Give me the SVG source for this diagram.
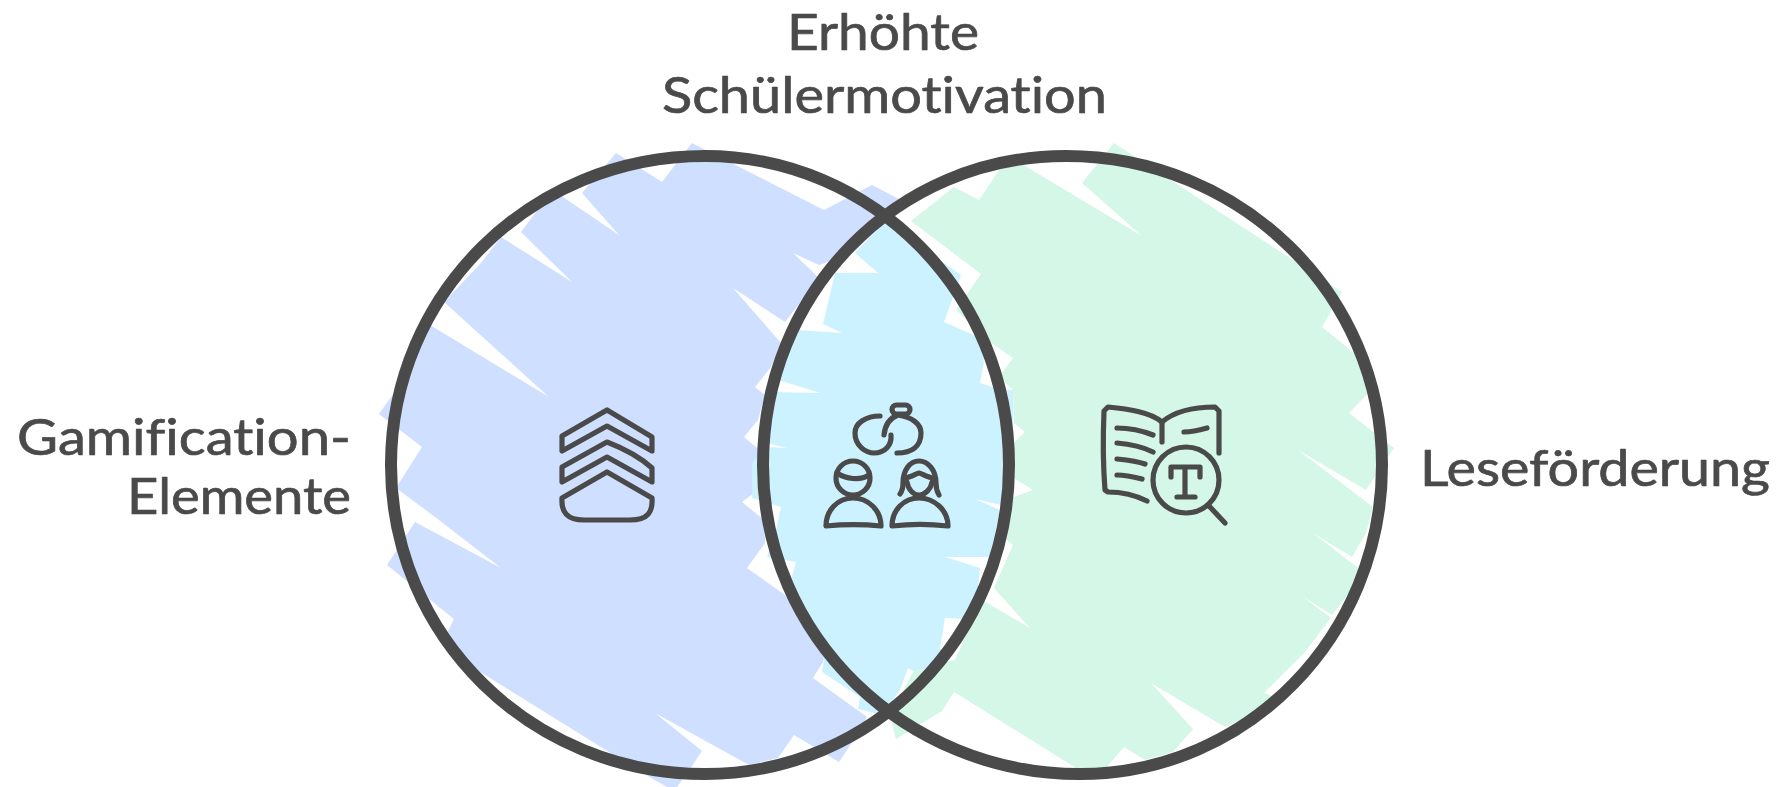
<svg xmlns="http://www.w3.org/2000/svg" width="1785" height="787" viewBox="0 0 1785 787">
<style>
.ring{fill:none;stroke:#4a4a4a;stroke-width:12;stroke-linejoin:round}
.ic{fill:none;stroke:#4a4a4a;stroke-width:5.2;stroke-linecap:round;stroke-linejoin:round}
text{font-family:"Lato","Open Sans",sans-serif;font-size:50px;fill:#4a4a4a;stroke:#4a4a4a;stroke-width:0.7;stroke-linejoin:round;font-variant-ligatures:none}
</style>
<rect width="1785" height="787" fill="#fff"/>
<g id="fills">
<polygon id="fill-blue" fill="#cfdfff" points="692,143 824,210 872,185 899,199 885,222 853,253 819,265 793,253 819,278 785,322 733,288 781,343 771,367 755,387 765,395 758,420 744,437 762,452 762,487 742,502 764,520 765,543 747,568 785,595 806,617 831,632 823,662 813,678 867,717 855,738 839,762 794,735 778,758 749,765 655,713 702,751 690,769 677,787 667,787 646,775 474,668 447,633 454,619 387,565 415,522 501,568 439,520 396,488 422,447 379,414 396,390 430,325 549,397 444,302 481,263 501,237 572,282 521,232 539,208 560,195 619,235 582,193 616,153 662,182"/>
<polygon id="fill-green" fill="#d4f7e7" points="1114,143 1342,292 1322,327 1359,357 1371,390 1349,413 1394,448 1366,490 1298,450 1373,507 1366,533 1352,557 1313,533 1358,568 1349,593 1332,615 1302,596 1331,618 1304,653 1264,693 1283,700 1225,727 1151,683 1193,729 1173,752 1145,760 1124,747 1106,768 1076,768 954,692 942,711 896,739 890,717 915,668 955,660 982,600 1030,628 994,588 1013,545 1001,535 1006,500 1033,490 1012,477 1012,445 1025,432 1014,423 1013,390 999,377 1013,358 990,342 956,310 981,274 911,221 954,187 979,200 999,170 1020,163 1142,236 1082,183"/>
<polygon id="fill-overlap" fill="#ccf2ff" points="885,222 961,275 951,303 944,322 978,337 984,362 980,383 999,389 1013,390 1013,430 1009,497 1001,505 975,499 1000,510 990,557 945,557 980,568 978,588 966,619 945,618 940,649 954,652 932,667 913,671 908,668 900,690 885,712 874,713 858,709 860,697 822,672 824,660 803,610 790,583 796,562 767,557 776,530 781,507 752,498 752,463 767,447 787,448 767,443 774,392 821,393 778,380 797,330 842,333 823,324 835,273 878,273 855,253"/>
</g>
<g id="set-left"><path class="ring" d="M391,465C391,294 531,156 705,156C873,156 1009,294 1009,465C1009,636 873,774 705,774C531,774 391,636 391,465Z"/></g>
<g id="set-right"><path class="ring" d="M763,465C763,294 895,156 1066,156C1240,156 1382,294 1382,465C1382,636 1247,774 1080,774C905,774 763,636 763,465Z"/></g>
<g id="icon-gamification">
<path class="ic" d="M607,410L652,437V451L607,426L562,451V436Z"/>
<path class="ic" d="M607,442C625,449 640,457 652,468V482L607,457L562,482V467Z"/>
<path class="ic" d="M607,472L652,498C653,512 648,520 630,520H584C567,520 561,512 562,498Z"/>
</g>
<g id="icon-motivation">
<path class="ic" d="M880,416C866,416 855,423 855,433C855,446 866,453 874,453C885,453 892,445 891,435"/>
<path class="ic" d="M884,435C885,425 890,418 898,415C912,417 921,424 921,433C921,446 912,453 897,453"/>
<rect class="ic" x="892" y="405" width="18" height="9" rx="4.5"/>
<circle class="ic" cx="853" cy="478" r="17"/>
<path class="ic" d="M837,473C846,479 860,481 869,475"/>
<path class="ic" d="M826,526C826,510 838,498 853,498C868,498 881,510 881,526C862,524 845,524 826,526Z"/>
<path class="ic" d="M900,494C903,490 903,486 903,483C903,470 910,461 919,461C928,461 936,470 936,483C936,486 936,490 939,495"/>
<path class="ic" d="M904,478C910,478 915,474 919,473C923,474 928,478 934,478"/>
<path class="ic" d="M907,482C908,489 913,495 919,495C925,495 931,489 932,482"/>
<path class="ic" d="M892,526C892,510 904,498 919,498C934,498 948,510 948,526C930,524 910,524 892,526Z"/>
</g>
<g id="icon-reading">
<path class="ic" d="M1147,501C1135,495 1120,492 1108,492L1105,490C1103,465 1103,435 1104,411L1108,407C1128,409 1150,412 1162,422C1175,411 1195,407 1215,407L1219,411V453"/>
<path class="ic" d="M1162,422V442"/>
<path class="ic" d="M1117,428C1130,428 1143,431 1153,435M1117,443C1130,444 1143,447 1153,452M1117,459C1127,460 1137,461 1145,464M1117,475C1125,475 1134,477 1142,479M1184,432C1191,432 1200,430 1207,428"/>
<circle class="ic" cx="1186" cy="480" r="33"/>
<path class="ic" d="M1210,507L1225,523M1171,477V467H1200V477M1185,467V497M1177,497H1195"/>
</g>
<g id="labels">
<text x="787" y="50" textLength="192" lengthAdjust="spacingAndGlyphs">Erhöhte</text>
<text x="662" y="113" textLength="445" lengthAdjust="spacingAndGlyphs">Schülermotivation</text>
<text x="17" y="455" textLength="334" lengthAdjust="spacingAndGlyphs">Gamification-</text>
<text x="127" y="514" textLength="224" lengthAdjust="spacingAndGlyphs">Elemente</text>
<text x="1420" y="486" textLength="350" lengthAdjust="spacingAndGlyphs">Leseförderung</text>
</g>
</svg>
